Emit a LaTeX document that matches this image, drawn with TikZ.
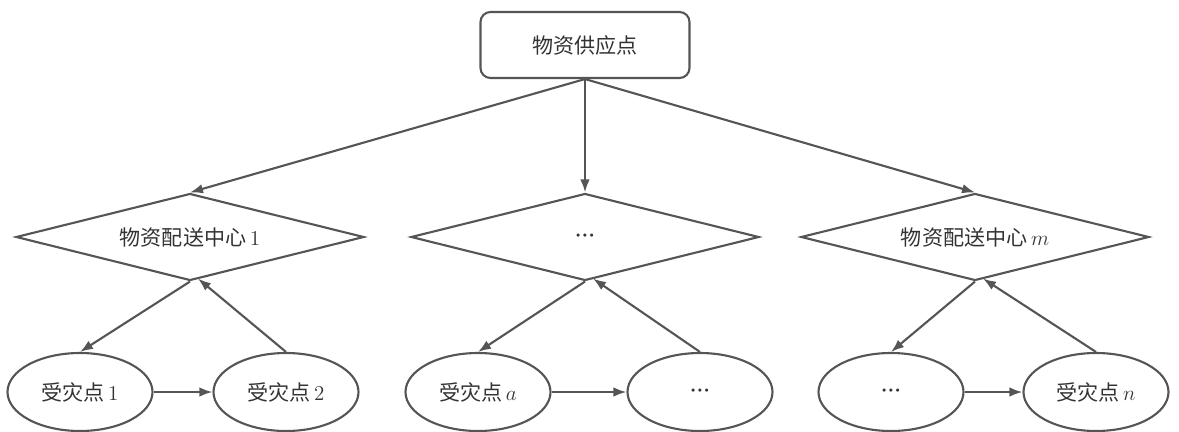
\documentclass[tikz,border=0pt]{standalone}
\usepackage{fontspec}
\newfontfamily\cjk{Noto Sans CJK SC}
\newfontfamily\dotfont{DejaVu Sans}
\usepackage{xcolor}
\usetikzlibrary{shapes.geometric,arrows.meta}
\definecolor{linegray}{HTML}{555555}
\definecolor{textgray}{HTML}{333333}
\newcommand{\moredots}{{\dotfont\fontsize{6}{7}\selectfont •\kern0.3pt•\kern0.3pt•}}

\begin{document}
\begin{tikzpicture}[->,>={Latex[length=2.6mm,width=1.9mm]},shorten >=0pt,auto,
    line width=1.2pt,draw=linegray,text=textgray,
    font=\fontsize{12}{14}\selectfont,
    top node/.style={rectangle,rounded corners=2mm,draw,minimum width=4.18cm,minimum height=1.32cm},
    hub node/.style={diamond,draw,aspect=4,inner sep=0pt,minimum width=6.96cm,minimum height=1.74cm},
    site node/.style={ellipse,draw,inner sep=0pt,minimum width=2.9cm,minimum height=1.56cm}]

            \useasboundingbox (0,0) rectangle (23.58,-8.62);

            \node[top node] (s) at (11.70,-0.90) {\cjk 物资供应点};
            \node[hub node] (c2) [below of = s, node distance=3.84cm] {\moredots};
            \node[hub node] (c1) [left of = c2, node distance=7.9cm] {{\cjk 物资配送中心}\,1};
            \node[hub node] (c3) [right of = c2, node distance=7.8cm] {{\cjk 物资配送中心}\,$m$};

            \node[site node] (r1) [below of = c1, node distance=3.1cm, xshift=-2.2cm] {{\cjk 受灾点}\,1};
            \node[site node] (r2) [right of = r1, node distance=4.12cm] {{\cjk 受灾点}\,2};
            \node[site node] (r3) [below of = c2, node distance=3.1cm, xshift=-2.14cm] {{\cjk 受灾点}\,$a$};
            \node[site node] (r4) [right of = r3, node distance=4.44cm] {\moredots};
            \node[site node] (r5) [below of = c3, node distance=3.1cm, xshift=-1.68cm] {\moredots};
            \node[site node] (r6) [right of = r5, node distance=4.1cm] {{\cjk 受灾点}\,$n$};

            \draw (s.south) to (c1.north);
            \draw (s.south) to (c2.north);
            \draw (s.south) to (c3.north);

            \draw (c1.south) to (r1.north);
            \draw (r2.north) to ([shift={(0.16,0.06)}]c1.south);
            \draw (r1) to (r2);

            \draw (c2.south) to (r3.north);
            \draw (r4.north) to ([shift={(0.16,0.06)}]c2.south);
            \draw (r3) to (r4);

            \draw (c3.south) to (r5.north);
            \draw (r6.north) to ([shift={(0.16,0.06)}]c3.south);
            \draw (r5) to (r6);

            ;
        \end{tikzpicture}
\end{document}
